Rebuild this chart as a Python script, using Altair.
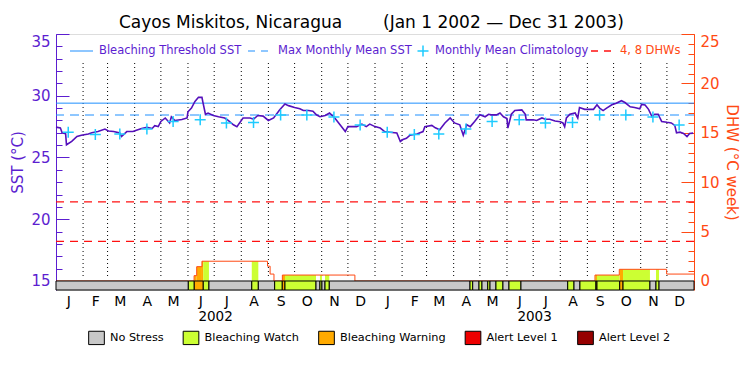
import altair as alt
import pandas as pd

FONT = "DejaVu Sans"
PURPLE = "#5c1ed0"
LINE_PURPLE = "#5510bb"
BLUE = "#1e8fff"
CYAN = "#1ecbff"
RED = "#ff1010"
ORANGE = "#ff4a14"

W, H = 638, 256
SST_MIN, SST_MAX = 14.27, 35.0

# ---------------- data ----------------
sst_days = [0, 5, 7, 11, 12, 18, 24, 29, 37, 41, 48, 56, 60, 66, 73, 75, 81, 88, 92, 98,
            104, 110, 113, 117, 120, 125, 130, 132, 136, 144, 150, 151, 155, 159, 163, 167, 168, 171, 174, 180,
            186, 193, 197, 203, 207, 214, 222, 226, 231, 237, 243, 249, 256, 262, 266, 273, 279, 283, 289, 294,
            298, 302, 308, 313, 319, 325, 331, 334, 344, 350, 355, 359, 365, 371, 376, 382, 390, 394, 397, 401,
            405, 413, 420, 422, 430, 434, 439, 445, 451, 456, 462, 466, 470, 474, 479, 485, 491, 495, 498, 504,
            508, 512, 516, 517, 521, 525, 533, 537, 538, 546, 550, 556, 560, 565, 571, 577, 580, 582, 584, 588,
            594, 597, 599, 605, 615, 619, 622, 626, 630, 636, 641, 647, 651, 657, 662, 668, 670, 674, 678, 682,
            685, 689, 691, 693, 699, 704, 708, 710, 714, 718, 722, 725, 729]
sst_vals = [27.46, 27.4, 27.0, 26.92, 26.03, 26.3, 26.7, 26.8, 26.9, 27.0, 27.1, 27.3, 27.15, 27.1, 26.98, 26.7, 27.1, 27.1, 27.2, 27.35,
            27.45, 27.35, 27.57, 27.5, 27.92, 28.2, 27.8, 28.3, 28.0, 28.07, 28.2, 28.7, 29.0, 29.54, 29.87, 29.87, 29.5, 28.5, 28.6, 28.4,
            28.3, 28.2, 28.0, 27.65, 27.5, 28.2, 28.2, 28.1, 28.4, 28.35, 28.0, 28.2, 28.87, 29.33, 29.2, 29.05, 28.95, 28.8, 28.8, 28.75,
            28.46, 28.3, 28.4, 28.6, 28.2, 27.65, 27.1, 27.5, 27.5, 27.7, 27.5, 27.7, 27.5, 27.38, 27.1, 27.05, 26.98, 26.3, 26.45, 26.55,
            26.8, 26.9, 27.1, 27.5, 27.6, 27.4, 27.25, 27.8, 28.2, 27.8, 27.65, 26.8, 27.65, 27.5, 27.92, 28.46, 28.3, 28.5, 28.45, 28.45,
            28.6, 28.3, 28.15, 27.38, 28.5, 28.8, 28.85, 28.5, 28.05, 28.05, 28.0, 28.2, 28.1, 28.1, 27.95, 27.9, 27.8, 27.5, 28.2, 28.5,
            28.6, 28.2, 29.05, 28.9, 28.9, 29.27, 29.0, 28.8, 29.0, 29.27, 29.4, 29.6, 29.45, 29.1, 29.05, 28.95, 29.3, 29.25, 28.9, 28.3,
            28.5, 28.5, 28.2, 27.92, 27.85, 27.8, 27.6, 27.0, 27.05, 26.95, 26.7, 26.95, 26.97]

clim_years = [2002, 2003]
clim_vals = [27.05, 26.87, 26.9, 27.3, 27.92, 28.06, 27.8, 27.84, 28.44, 28.44, 28.27, 27.63]

threshold_sst = 29.4
mmm_sst = 28.44
dhw_marks = [4, 8]

dhw_days = [0, 158, 161, 167, 242, 245, 249.4, 259, 342, 616.7, 644.5, 698.7, 730]
dhw_vals = [0, 0.54, 1.45, 2.0, 1.5, 0.7, 0, 0.6, 0, 0.6, 1.18, 0.7, 0.7]

stress_start = [0, 151.4, 158.2, 168.5, 175, 224, 231.5, 250.2, 258.9, 262, 297.5, 302, 304.3, 307.8,
                312.7, 473.7, 476.8, 484, 487.4, 494, 496.6, 503.4, 511.4, 518.3, 532, 585.5, 592.7,
                599.5, 617.8, 619, 645, 648.8, 679.6, 686.5, 690]
stress_end = [151.4, 158.2, 168.5, 175, 224, 231.5, 250.2, 258.9, 262, 297.5, 302, 304.3, 307.8, 312.7,
              473.7, 476.8, 484, 487.4, 494, 496.6, 503.4, 511.4, 518.3, 532, 585.5, 592.7, 599.5,
              617.8, 619, 645, 648.8, 679.6, 686.5, 690, 730]
stress_level = [0, 1, 2, 1, 0, 1, 0, 1, 2, 1, 0, 1, 0, 1,
                0, 1, 0, 1, 0, 1, 0, 1, 0, 1, 0, 1, 0,
                1, 2, 1, 2, 1, 0, 1, 0]

stress_names = ["No Stress", "Bleaching Watch", "Bleaching Warning", "Alert Level 1", "Alert Level 2"]
stress_colors = ["#c8c8c8", "#ccff33", "#ffaa00", "#ee0000", "#960000"]

month_letters = ["J", "F", "M", "A", "M", "J", "J", "A", "S", "O", "N", "D"]
top_legend_labels = ["Bleaching Threshold SST", "Max Monthly Mean SST", "Monthly Mean Climatology", "4, 8 DHWs"]
title_left = "Cayos Miskitos, Nicaragua"
title_right = "(Jan 1 2002 \u2014 Dec 31 2003)"

# ---------------- tables ----------------
START = pd.Timestamp("2002-01-01")


def iso(d):
    return (START + pd.Timedelta(days=float(d))).strftime("%Y-%m-%dT%H:%M:%SZ")


def dhw_to_sst(v):
    return 15.0 + 0.8 * v


sst_df = pd.DataFrame({"date": [iso(d) for d in sst_days], "sst": sst_vals})
clim_df = pd.DataFrame({
    "date": [f"{y}-{m:02d}-15T00:00:00Z" for y in clim_years for m in range(1, 13)],
    "sst": [clim_vals[m - 1] for y in clim_years for m in range(1, 13)],
})
dhw_df = pd.DataFrame({"date": [iso(d) for d in dhw_days], "sst": [dhw_to_sst(v) for v in dhw_vals]})
dhw_rule_df = pd.DataFrame({"sst": [dhw_to_sst(v) for v in dhw_marks]})
stress_df = pd.DataFrame({
    "start": [iso(d) for d in stress_start],
    "end": [iso(d) for d in stress_end],
    "level": [stress_names[i] for i in stress_level],
    "top": 15.0,
    "bottom": SST_MIN,
})
fill_rows = []
for s, e, lv in zip(stress_start, stress_end, stress_level):
    if lv == 0:
        continue
    for i in range(len(dhw_days) - 1):
        a, b = max(s, dhw_days[i]), min(e, dhw_days[i + 1])
        if b > a and dhw_vals[i] > 0:
            fill_rows.append({"start": iso(a), "end": iso(b), "level": stress_names[lv],
                              "top": dhw_to_sst(dhw_vals[i]), "base": 15.0})
fill_df = pd.DataFrame(fill_rows)
month_df = pd.DataFrame({"date": [f"{y}-{m:02d}-01T00:00:00Z" for y in clim_years for m in range(1, 13)][1:]})
one = pd.DataFrame({"k": [0]})

# ---------------- scales / axes ----------------
X_SCALE = alt.Scale(type="utc", domain=[alt.DateTime(year=2002, month=1, date=1, utc=True),
                                        alt.DateTime(year=2004, month=1, date=1, utc=True)])
Y_SCALE = alt.Scale(domain=[SST_MIN, SST_MAX], nice=False, zero=False)
COLOR_SCALE = alt.Scale(domain=stress_names, range=stress_colors)

LEGEND = alt.Legend(orient="none", legendX=32, legendY=295, direction="horizontal", title=None,
                    symbolType="M-1,-0.85H1V0.85H-1Z", symbolSize=246, symbolStrokeColor="black",
                    symbolStrokeWidth=1, symbolOpacity=1, labelFont=FONT, labelFontSize=11.3,
                    labelColor="black", labelOffset=5, columnPadding=16.5, padding=0, labelLimit=0)

month_axis = alt.Axis(orient="bottom", values=[alt.DateTime(year=y, month=m, date=15, utc=True)
                                               for y in clim_years for m in range(1, 13)],
                      labelExpr="['" + "','".join(month_letters) + "'][utcmonth(datum.value)]",
                      ticks=False, tickSize=0, domain=False, grid=False, labelPadding=4,
                      labelFont=FONT, labelFontSize=14, labelColor="black", title=None,
                      labelFlush=False, labelOverlap=False)
year_axis = alt.Axis(orient="bottom", values=[alt.DateTime(year=y, month=7, date=2, utc=True) for y in clim_years],
                     labelExpr="utcyear(datum.value) + ''", ticks=False, tickSize=0, domain=False, grid=False,
                     labelPadding=19, labelFont=FONT, labelFontSize=13.5, labelColor="black", title=None,
                     labelFlush=False, labelOverlap=False)

left_major = alt.Axis(orient="left", values=[15, 20, 25, 30, 35], offset=-13, tickSize=13, tickColor=PURPLE,
                      domain=False, grid=False, labelColor=PURPLE, labelFont=FONT, labelFontSize=15,
                      labelPadding=6, labelFlush=True, title="SST (\u00b0C)", titleColor=PURPLE,
                      titleFont=FONT, titleFontSize=15, titleFontWeight="normal", titlePadding=5)
left_minor = alt.Axis(orient="left", values=list(range(15, 36)), offset=-6, tickSize=6, tickColor=PURPLE,
                      domain=False, grid=False, labels=False, title=None)
left_line = alt.Axis(orient="left", domain=True, domainColor=PURPLE, domainWidth=1, ticks=False,
                     labels=False, grid=False, title=None)
right_major = alt.Axis(orient="right", values=[dhw_to_sst(v) for v in [0, 5, 10, 15, 20, 25]], offset=-13,
                       tickSize=13, tickColor=ORANGE, domain=False, grid=False,
                       labelExpr="round((datum.value - 15) * 1.25) + ''", labelColor=ORANGE, labelFont=FONT,
                       labelFontSize=15, labelPadding=6, labelFlush=True, title="DHW (\u00b0C week)",
                       titleColor=ORANGE, titleFont=FONT, titleFontSize=15, titleFontWeight="normal",
                       titlePadding=4)
right_minor = alt.Axis(orient="right", values=[dhw_to_sst(v) for v in range(26)], offset=-6, tickSize=6,
                       tickColor=ORANGE, domain=False, grid=False, labels=False, title=None)
right_line = alt.Axis(orient="right", domain=True, domainColor=ORANGE, domainWidth=1, ticks=False,
                      labels=False, grid=False, title=None)


def X(field, axis=None):
    return alt.X(field, type="temporal", scale=X_SCALE, axis=axis)


def Y(field, axis=None):
    return alt.Y(field, type="quantitative", scale=Y_SCALE, axis=axis)


# ---------------- layers ----------------
month_rules = alt.Chart(month_df).mark_rule(color="black", strokeDash=[1, 3], strokeWidth=1).encode(
    x=X("date"), y=alt.value(29), y2=alt.value(243))

dhw_rules = alt.Chart(dhw_rule_df).mark_rule(color=RED, strokeDash=[8, 6], strokeWidth=1.3).encode(
    y=Y("sst", right_minor))

thr_rule = alt.Chart(pd.DataFrame({"sst": [threshold_sst]})).mark_rule(color=BLUE, strokeWidth=1).encode(
    y=Y("sst", left_line))
mmm_rule = alt.Chart(pd.DataFrame({"sst": [mmm_sst]})).mark_rule(color=BLUE, strokeWidth=1,
                                                                 strokeDash=[9, 6]).encode(
    y=Y("sst", right_major))

fills = alt.Chart(fill_df).mark_rect(strokeWidth=0).encode(
    x=X("start"), x2="end:T", y=Y("top"), y2="base:Q",
    color=alt.Color("level:N", scale=COLOR_SCALE, legend=LEGEND))

dhw_line = alt.Chart(dhw_df).mark_line(interpolate="step-after", color=ORANGE, strokeWidth=1).encode(
    x=X("date"), y=Y("sst", right_line))

bar = alt.Chart(stress_df).mark_rect(stroke="black", strokeWidth=1).encode(
    x=X("start", month_axis), x2="end:T", y=Y("top"), y2="bottom:Q",
    color=alt.Color("level:N", scale=COLOR_SCALE, legend=LEGEND))

sst_line = alt.Chart(sst_df).mark_line(color=LINE_PURPLE, strokeWidth=1.6).encode(
    x=X("date", year_axis), y=Y("sst", left_major))

CROSS = "M-1,0L1,0M0,-1L0,1"
clim = alt.Chart(clim_df).mark_point(shape=CROSS, size=121, filled=False, color=CYAN, strokeWidth=1.5,
                                     opacity=1).encode(x=X("date"), y=Y("sst", left_minor))

LY = 17
leg = [
    alt.Chart(one).mark_rule(color=BLUE, strokeWidth=1).encode(x=alt.value(14), x2=alt.value(37), y=alt.value(LY)),
    alt.Chart(one).mark_text(text=top_legend_labels[0], align="left", baseline="middle", font=FONT,
                             fontSize=11.5, color=PURPLE).encode(x=alt.value(43), y=alt.value(LY)),
    alt.Chart(one).mark_rule(color=BLUE, strokeWidth=1, strokeDash=[7, 6]).encode(
        x=alt.value(192), x2=alt.value(216), y=alt.value(LY)),
    alt.Chart(one).mark_text(text=top_legend_labels[1], align="left", baseline="middle", font=FONT,
                             fontSize=11.5, color=PURPLE).encode(x=alt.value(222), y=alt.value(LY)),
    alt.Chart(one).mark_point(shape=CROSS, size=121, filled=False, color=CYAN, strokeWidth=1.5,
                              opacity=1).encode(x=alt.value(367), y=alt.value(LY)),
    alt.Chart(one).mark_text(text=top_legend_labels[2], align="left", baseline="middle", font=FONT,
                             fontSize=11.5, color=PURPLE).encode(x=alt.value(379), y=alt.value(LY)),
    alt.Chart(one).mark_rule(color=RED, strokeWidth=1.3, strokeDash=[7, 6]).encode(
        x=alt.value(535), x2=alt.value(560), y=alt.value(LY)),
    alt.Chart(one).mark_text(text=top_legend_labels[3], align="left", baseline="middle", font=FONT,
                             fontSize=11.5, color=ORANGE).encode(x=alt.value(564), y=alt.value(LY)),
    alt.Chart(one).mark_text(text=title_left, align="left", baseline="middle", font=FONT,
                             fontSize=17, color="black").encode(x=alt.value(63), y=alt.value(-11)),
    alt.Chart(one).mark_text(text=title_right, align="left", baseline="middle", font=FONT,
                             fontSize=17, color="black").encode(x=alt.value(327), y=alt.value(-11)),
]

chart = alt.layer(month_rules, dhw_rules, thr_rule, mmm_rule, fills, dhw_line, bar, sst_line, clim, *leg).resolve_axis(
    x="independent", y="independent"
).properties(
    width=W, height=H, autosize=alt.AutoSizeParams(type="none"),
    padding={"left": 48, "top": 26, "right": 48, "bottom": 77},
).configure_view(stroke="black", strokeWidth=1).configure(background="white")

chart.save("out.html", embed_options={"renderer": "svg", "actions": False})
